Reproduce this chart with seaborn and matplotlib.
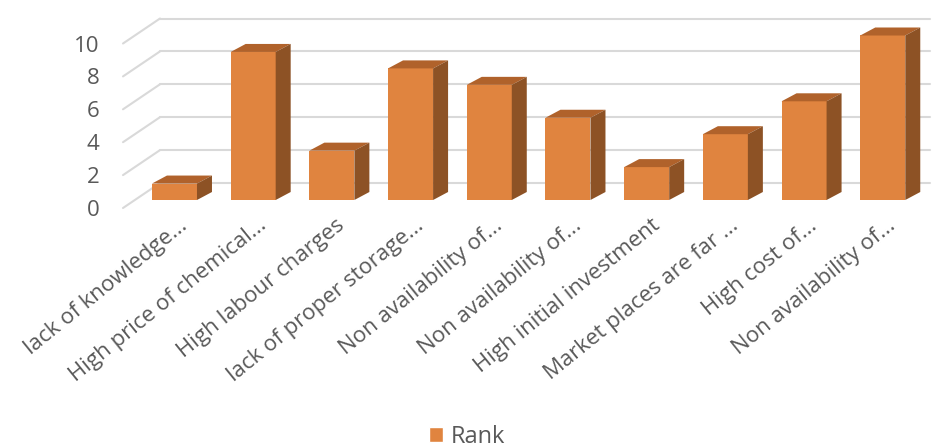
import pandas as pd
import seaborn as sns
import matplotlib.pyplot as plt
from matplotlib.patches import Polygon, Patch
from matplotlib.transforms import ScaledTranslation

factors = ['lack of knowledge...', 'High price of chemical...', 'High labour charges',
           'lack of proper storage...', 'Non availability of...', 'Non availability of...',
           'High initial investment', 'Market places are far ...', 'High cost of...',
           'Non availability of...']
rank = [1, 9, 3, 8, 7, 5, 2, 4, 6, 10]

df = pd.DataFrame({'factor': range(len(factors)), 'rank': rank})

front_col = '#E0843F'
top_col = '#B0622B'
side_col = '#8D5225'
grid_col = '#D9D9D9'
text_col = '#595959'

sns.set_theme(style='white')
plt.rcParams['font.family'] = ['Open Sans', 'DejaVu Sans']

fig = plt.figure(figsize=(9.41, 4.48), dpi=100)
ax = fig.add_axes([123/941, 240/448, 818/941, 197.4/448])

# pixel scales -> data units
px_x = 78.7
px_y = 16.45
base = 8 / px_y          # bars sit a little behind the front plane
bdx, bdy = 15 / px_x, 8 / px_y   # bar depth
wdx, wdy = 37 / px_x, 25 / px_y  # wall depth
x_left = -0.654

sns.barplot(data=df, x='factor', y='rank', color=front_col, width=0.572,
            saturation=1, native_scale=True, ax=ax, zorder=3, linewidth=0)

ax.set_xlim(x_left, 9.74)
ax.set_ylim(0, 12)

# back wall and left wall gridlines
for k in range(0, 11, 2):
    ax.plot([x_left, x_left + wdx], [k, k + wdy], color=grid_col, lw=1.5,
            clip_on=False, zorder=1)
    ax.plot([x_left + wdx, 9.6], [k + wdy, k + wdy], color=grid_col, lw=1.5,
            clip_on=False, zorder=1)

# 3d faces
for p in ax.patches:
    p.set_y(base)
    x0 = p.get_x()
    x1 = x0 + p.get_width()
    top = base + p.get_height()
    ax.add_patch(Polygon([(x0, top), (x1, top), (x1 + bdx, top + bdy), (x0 + bdx, top + bdy)],
                         closed=True, facecolor=top_col, edgecolor='none', zorder=3))
    ax.add_patch(Polygon([(x1, base), (x1 + bdx, base + bdy), (x1 + bdx, top + bdy), (x1, top)],
                         closed=True, facecolor=side_col, edgecolor='none', zorder=3))

sns.despine(ax=ax, left=True, bottom=True)
ax.set_yticks(range(0, 11, 2))
ax.set_yticklabels([str(v) for v in range(0, 11, 2)], fontsize=16, color=text_col)
ax.set_xticks(range(len(factors)))
ax.set_xticklabels(factors, rotation=39, ha='right', va='top', rotation_mode='anchor',
                   fontsize=16, color=text_col)
ax.tick_params(axis='both', length=0)
ax.tick_params(axis='y', pad=17)
ax.tick_params(axis='x', pad=5)
shift = ScaledTranslation(4/100, 0, fig.dpi_scale_trans)
for lab in ax.get_xticklabels():
    lab.set_transform(lab.get_transform() + shift)
ax.set_xlabel('')
ax.set_ylabel('')

fig.legend(handles=[Patch(facecolor=front_col, label='Rank')], loc='center',
           bbox_to_anchor=(467/941, 1 - 437/448), frameon=False, fontsize=17,
           handlelength=0.6, handleheight=0.6, handletextpad=0.35, labelcolor=text_col)

fig.savefig('out.png', dpi=100)
